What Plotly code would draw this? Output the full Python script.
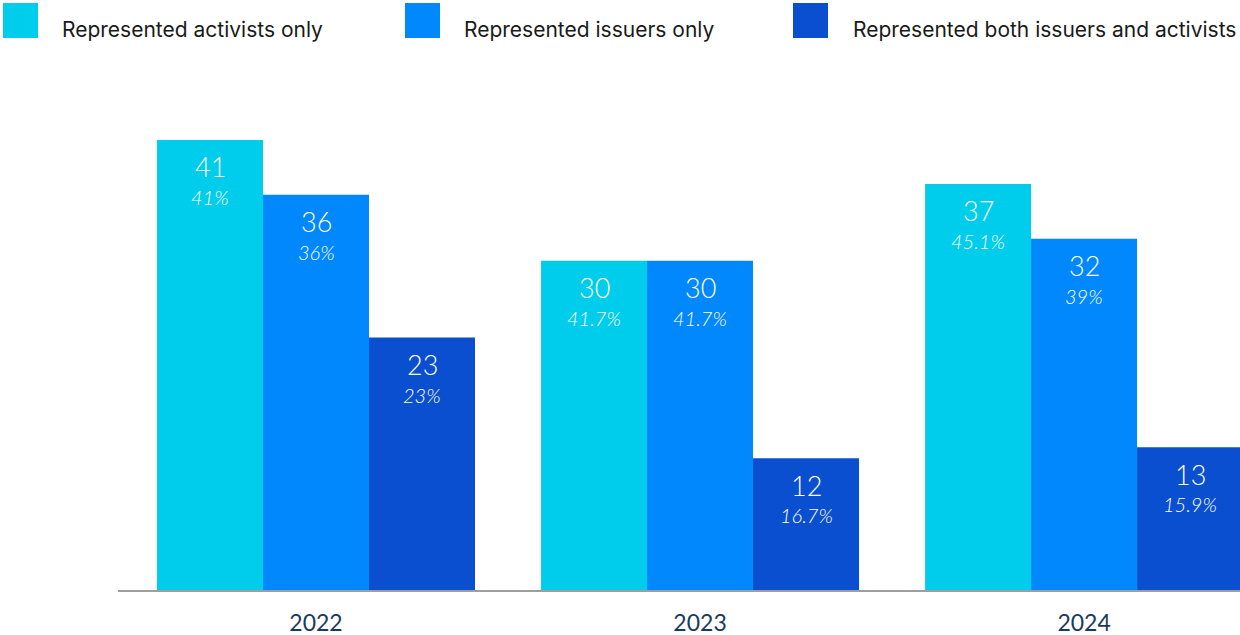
import plotly.graph_objects as go

years = ["2022", "2023", "2024"]
series_names = ["Represented activists only", "Represented issuers only",
                "Represented both issuers and activists"]
activists_only = [41, 30, 37]
issuers_only = [36, 30, 32]
both = [23, 12, 13]
activists_pct = ["41%", "41.7%", "45.1%"]
issuers_pct = ["36%", "41.7%", "39%"]
both_pct = ["23%", "16.7%", "15.9%"]
colors = ["#00CDEB", "#0088FC", "#0A4FD0"]

values = [activists_only, issuers_only, both]
pcts = [activists_pct, issuers_pct, both_pct]

W, H = 1240, 635
ML, MR, MT, MB = 118, 0, 80, 45
PW, PH = W - ML - MR, H - MT - MB
BARGAP = 0.172

fig = go.Figure()
for name, vals, col in zip(series_names, values, colors):
    fig.add_trace(go.Bar(
        x=years, y=vals, name=name, marker=dict(color=col, line=dict(width=0)),
        showlegend=False, hoverinfo="skip",
    ))

annotations = []
bw = (1 - BARGAP) / len(values)
for si, (vals, pc) in enumerate(zip(values, pcts)):
    off = (si - (len(values) - 1) / 2) * bw
    for ci, (v, p) in enumerate(zip(vals, pc)):
        annotations.append(dict(x=ci + off, y=v, xref="x", yref="y", text=str(v),
                                showarrow=False, yshift=-27, yanchor="middle",
                                font=dict(family="Lato", size=27, color="white", weight=300)))
        annotations.append(dict(x=ci + off, y=v, xref="x", yref="y", text=f"<i>{p}</i>",
                                showarrow=False, yshift=-57, yanchor="middle",
                                font=dict(family="Lato", size=20, color="white", weight=300)))

# custom legend (pixel positions converted to paper coords)
def px_x(p):
    return (p - ML) / PW

def px_y(p):
    return (H - MB - p) / PH

leg_sq = [3, 405, 793]
leg_tx = [60, 462, 851]
shapes = []
for name, col, sx, tx in zip(series_names, colors, leg_sq, leg_tx):
    shapes.append(dict(type="rect", xref="paper", yref="paper",
                       x0=px_x(sx), x1=px_x(sx + 35), y0=px_y(38), y1=px_y(3),
                       fillcolor=col, line=dict(width=0)))
    annotations.append(dict(xref="paper", yref="paper", x=px_x(tx), y=px_y(30),
                            text=name, showarrow=False, xanchor="left", yanchor="middle",
                            font=dict(family="Inter", size=21, color="#1a1a1a")))

fig.update_layout(
    width=W, height=H,
    margin=dict(l=ML, r=MR, t=MT, b=MB),
    paper_bgcolor="white", plot_bgcolor="white",
    barmode="group", bargap=BARGAP, bargroupgap=0,
    shapes=shapes, annotations=annotations,
    xaxis=dict(type="category", range=[-0.5156, 2.406], showline=True,
               linecolor="#9e9e9e", linewidth=2, ticks="", showgrid=False,
               ticklabelstandoff=11,
               tickfont=dict(family="Lato", size=23, color="#1B3A5E")),
    yaxis=dict(range=[0, PH / 10.976], visible=False, showgrid=False, zeroline=False),
    font=dict(family="Lato"),
)

fig.write_html("out.html", config={"displayModeBar": False},
               post_script="document.body.style.margin='0';document.body.style.overflow='hidden';")
